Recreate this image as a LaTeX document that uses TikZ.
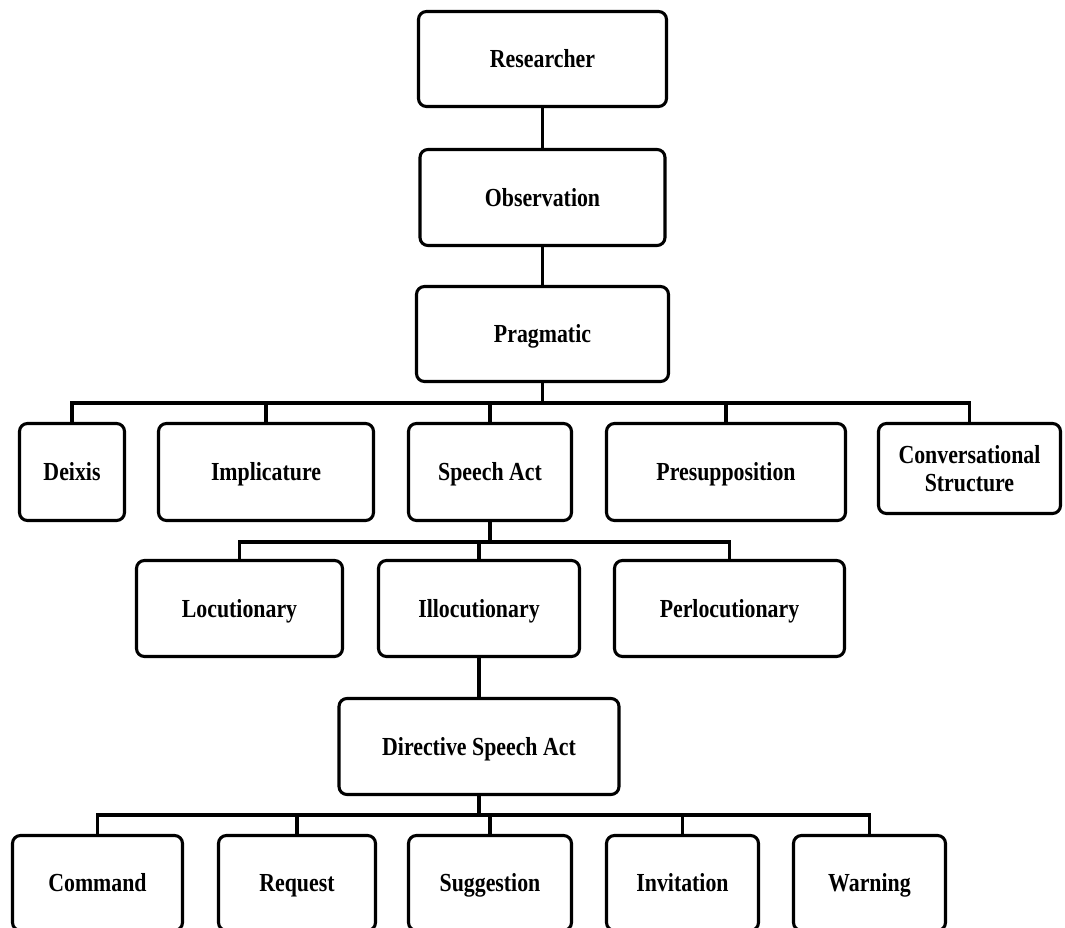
\documentclass[tikz,border=0pt]{standalone}
\usepackage{fontspec}
\setmainfont{Liberation Serif}[FakeStretch=0.84]
\begin{document}
\begin{tikzpicture}[x=0.75pt,y=-0.75pt,
  box/.style={draw=black, line width=2.3pt, rounded corners=6pt, fill=white,
    align=center, inner sep=2pt, text height=13pt, text depth=0pt,
    font=\fontsize{19.5}{21}\selectfont\bfseries},
  link/.style={draw=black, line width=2.5pt}]
\useasboundingbox (0,0) rectangle (1065,928);
\clip (0,0) rectangle (1065,928);
% level 0
\node[box, minimum width=186pt,    minimum height=71.25pt] (res)    at (542.5,59)   {Researcher};
\node[box, minimum width=183.75pt, minimum height=72pt]    (obs)    at (542.5,197.5){Observation};
\node[box, minimum width=189pt,    minimum height=71.25pt] (prag)   at (542.5,334)  {Pragmatic};
% level 1
\node[box, minimum width=78.75pt,  minimum height=72.75pt] (deixis) at (72,472)     {Deixis};
\node[box, minimum width=161.25pt, minimum height=72.75pt] (impl)   at (266,472)    {Implicature};
\node[box, minimum width=122.25pt, minimum height=72.75pt] (sact)   at (490,472)    {Speech Act};
\node[box, minimum width=179.25pt, minimum height=72.75pt] (presup) at (726,472)    {Presupposition};
\node[box, minimum width=136.5pt,  minimum height=67.5pt, text height={}, text depth={}] (conv) at (969.5,468.5) {Conversational\\Structure};
% level 2
\node[box, minimum width=154.5pt,  minimum height=72pt]    (loc)    at (239.5,608.5){Locutionary};
\node[box, minimum width=150.75pt, minimum height=72pt]    (illoc)  at (479,608.5)  {Illocutionary};
\node[box, minimum width=172.5pt,  minimum height=72pt]    (perloc) at (729.5,608.5){Perlocutionary};
% level 3
\node[box, minimum width=210pt,    minimum height=72pt]    (dir)    at (479,746.5)  {Directive Speech Act};
% level 4
\node[box, minimum width=127.5pt,  minimum height=71.25pt] (cmd)    at (97.5,883)   {Command};
\node[box, minimum width=117.75pt, minimum height=71.25pt] (req)    at (297,883)    {Request};
\node[box, minimum width=122.25pt, minimum height=71.25pt] (sug)    at (490,883)    {Suggestion};
\node[box, minimum width=114pt,    minimum height=71.25pt] (inv)    at (682.5,883)  {Invitation};
\node[box, minimum width=114pt,    minimum height=71.25pt] (warn)   at (869.5,883)  {Warning};
% junction points
\coordinate (j1) at (542.5,403);
\coordinate (j2) at (490,542);
\coordinate (j3) at (479,815);
% connectors
\draw[link] (res.south) -- (obs.north);
\draw[link] (obs.south) -- (prag.north);
\draw[link] (prag.south) -- (j1);
\draw[link] (deixis.north) |- (j1);
\draw[link] (impl.north) |- (j1);
\draw[link] (sact.north) |- (j1);
\draw[link] (presup.north) |- (j1);
\draw[link] (conv.north) |- (j1);
\draw[link] (sact.south) -- (j2);
\draw[link] (loc.north) |- (j2);
\draw[link] (illoc.north) |- (j2);
\draw[link] (perloc.north) |- (j2);
\draw[link] (illoc.south) -- (dir.north);
\draw[link] (dir.south) -- (j3);
\draw[link] (cmd.north) |- (j3);
\draw[link] (req.north) |- (j3);
\draw[link] (sug.north) |- (j3);
\draw[link] (inv.north) |- (j3);
\draw[link] (warn.north) |- (j3);
\end{tikzpicture}
\end{document}
